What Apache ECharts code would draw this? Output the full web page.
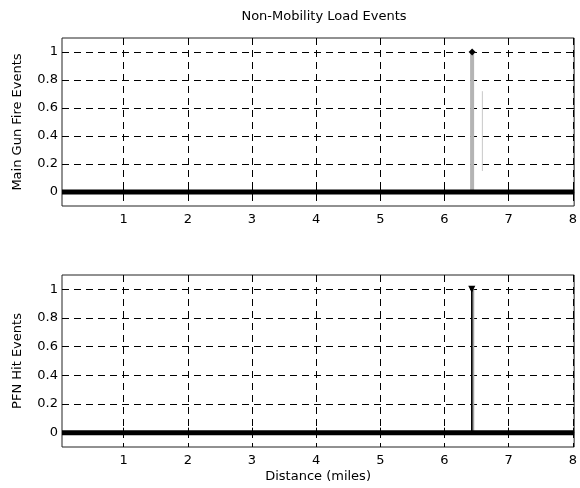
<!DOCTYPE html>
<html>
<head>
<meta charset="utf-8">
<script src="https://cdn.jsdelivr.net/npm/echarts@6/dist/echarts.min.js"></script>
<style>
  html, body { margin: 0; padding: 0; background: #fff; }
  #chart { width: 580px; height: 488px; }
</style>
</head>
<body>
<div id="chart"></div>
<script>
// distance range (miles) and tick values
var distRange = [0.04, 8.02];
var eventRange = [-0.1, 1.1];
var xTicks = [1, 2, 3, 4, 5, 6, 7, 8];
var yTicks = [0, 0.2, 0.4, 0.6, 0.8, 1];

// Main gun fire events
var gunBaseX = [0.04, 8.02];
var gunBaseY = [0, 0];
var gunSpikeX = [6.43, 6.43];
var gunSpikeY = [0, 1];
var gunFaintX = [6.59, 6.59];
var gunFaintY = [0.15, 0.72];

// PFN hit events
var pfnBaseX = [0.04, 8.02];
var pfnBaseY = [0, 0];
var pfnSpikeX = [6.425, 6.425];
var pfnShadeX = [6.44, 6.44];
var pfnSpikeY = [0, 1];

function pairs(xs, ys) {
  return xs.map(function (x, i) { return [x, ys[i]]; });
}

var font = "'DejaVu Sans', sans-serif";
var fs = 13;
var dash = { color: "#000", width: 1, type: [7, 5] };

function xAx(grid, pos, withLabels) {
  return {
    type: "value", gridIndex: grid, position: pos,
    min: distRange[0], max: distRange[1],
    axisLine: { show: false },
    axisTick: { show: true, inside: true, length: 5, customValues: xTicks, lineStyle: { color: "#000" } },
    axisLabel: { show: withLabels, customValues: xTicks, color: "#000", fontFamily: font, fontSize: fs, margin: 7 },
    splitLine: { show: withLabels, lineStyle: dash }
  };
}
function yAx(grid, pos, withLabels, name) {
  return {
    type: "value", gridIndex: grid, position: pos,
    min: eventRange[0], max: eventRange[1],
    name: withLabels ? name : "",
    nameLocation: "middle", nameGap: 38,
    nameTextStyle: { color: "#000", fontFamily: font, fontSize: fs },
    axisLine: { show: false },
    axisTick: { show: true, inside: true, length: 5, customValues: yTicks, lineStyle: { color: "#000" } },
    axisLabel: { show: withLabels, customValues: yTicks, color: "#000", fontFamily: font, fontSize: fs, margin: 4 },
    splitLine: { show: withLabels, lineStyle: dash }
  };
}

var chart = echarts.init(document.getElementById("chart"));
var option = {
  backgroundColor: "#fff",
  animation: false,
  title: {
    text: "Non-Mobility Load Events",
    left: 319, top: 5, textAlign: "center",
    textStyle: { color: "#000", fontFamily: font, fontSize: fs, fontWeight: "normal" }
  },
  grid: [
    { left: 62, top: 38, width: 515, height: 168, show: true, borderColor: "#222", borderWidth: 1, backgroundColor: "transparent" },
    { left: 62, top: 275, width: 515, height: 172, show: true, borderColor: "#222", borderWidth: 1, backgroundColor: "transparent" }
  ],
  xAxis: [
    xAx(0, "bottom", true),
    xAx(0, "top", false),
    Object.assign(xAx(1, "bottom", true), {
      name: "Distance (miles)", nameLocation: "middle", nameGap: 23,
      nameTextStyle: { color: "#000", fontFamily: font, fontSize: fs }
    }),
    xAx(1, "top", false)
  ],
  yAxis: [
    yAx(0, "left", true, "Main Gun Fire Events"),
    yAx(0, "right", false),
    yAx(1, "left", true, "PFN Hit Events"),
    yAx(1, "right", false)
  ],
  series: [
    { type: "line", xAxisIndex: 0, yAxisIndex: 0, data: pairs(gunFaintX, gunFaintY), symbol: "none",
      lineStyle: { color: "#c8c8c8", width: 1 }, z: 3 },
    { type: "line", xAxisIndex: 0, yAxisIndex: 0, data: pairs(gunSpikeX, gunSpikeY),
      symbol: function (v) { return v[1] === 1 ? "diamond" : "none"; }, symbolSize: 7,
      itemStyle: { color: "#000" },
      lineStyle: { color: "#b4b4b4", width: 4 }, z: 4 },
    { type: "line", xAxisIndex: 0, yAxisIndex: 0, data: pairs(gunBaseX, gunBaseY), symbol: "none",
      lineStyle: { color: "#000", width: 5 }, z: 5 },

    { type: "line", xAxisIndex: 2, yAxisIndex: 2, data: pairs(pfnShadeX, pfnSpikeY), symbol: "none",
      lineStyle: { color: "#a0a0a0", width: 3 }, z: 3 },
    { type: "line", xAxisIndex: 2, yAxisIndex: 2, data: pairs(pfnSpikeX, pfnSpikeY),
      symbol: function (v) { return v[1] === 1 ? "triangle" : "none"; }, symbolRotate: 180, symbolSize: 7,
      itemStyle: { color: "#000" },
      lineStyle: { color: "#000", width: 1.5 }, z: 4 },
    { type: "line", xAxisIndex: 2, yAxisIndex: 2, data: pairs(pfnBaseX, pfnBaseY), symbol: "none",
      lineStyle: { color: "#000", width: 5 }, z: 5 }
  ]
};
chart.setOption(option);
</script>
</body>
</html>
